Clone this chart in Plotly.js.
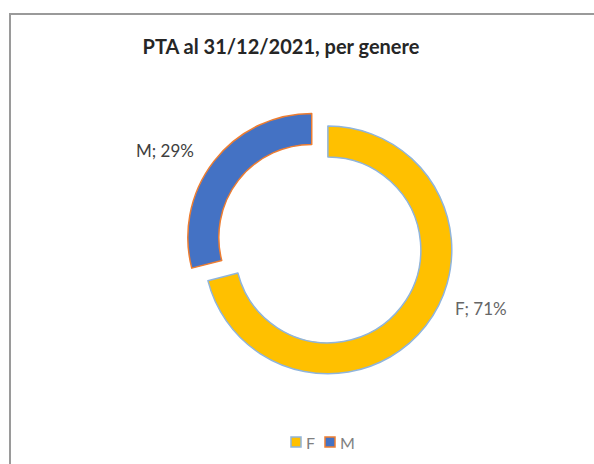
<!DOCTYPE html>
<html>
<head>
<meta charset="utf-8">
<script src="https://cdn.plot.ly/plotly-3.0.1.min.js"></script>
<style>
  html, body { margin: 0; padding: 0; background: #fff; }
  #wrap { position: relative; width: 594px; height: 464px; overflow: hidden; }
  #chart { width: 594px; height: 464px; }
  #frame { position: absolute; left: 9px; top: 13px; width: 600px; height: 470px;
           border-left: 2px solid #9a9a9a; border-top: 2px solid #9a9a9a; pointer-events: none; }
</style>
</head>
<body>
<div id="wrap">
  <div id="chart"></div>
  <div id="frame"></div>
</div>
<script>
const categories = ["F", "M"];
const values = [71, 29];
const sliceColors = ["#FFC000", "#4472C4"];
const outlineColors = ["#8FB4DC", "#ED7D31"];
const pulls = [0, 0.165];
const chartTitle = "PTA al 31/12/2021, per genere";

const total = values.reduce((a, b) => a + b, 0);
const labelTexts = categories.map((c, i) => c + "; " + Math.round(values[i] / total * 100) + "%");

const W = 594, H = 464;
const px = v => v / W;
const py = v => 1 - v / H;

const trace = {
  type: "pie",
  labels: categories,
  values: values,
  hole: 0.75,
  sort: false,
  direction: "clockwise",
  rotation: 0,
  pull: pulls,
  marker: { colors: sliceColors, line: { color: outlineColors, width: 1.5 } },
  textinfo: "none",
  domain: { x: [0.309, 0.795], y: [0.150, 0.773] },
  hoverinfo: "none",
  showlegend: false
};

// custom compact legend (Excel style)
const legendX = [291, 325];   // left edge of each legend square, px
const legendY = 442;          // centre line of legend, px
const sq = 10;
const legendShapes = categories.map((c, i) => ({
  type: "rect", xref: "paper", yref: "paper",
  x0: px(legendX[i]), x1: px(legendX[i] + sq),
  y0: py(legendY + sq / 2), y1: py(legendY - sq / 2),
  fillcolor: sliceColors[i], line: { color: outlineColors[i], width: 1.5 }
}));
const legendTexts = categories.map((c, i) => ({
  text: c, xref: "paper", yref: "paper",
  x: px(legendX[i] + sq + 3), y: py(legendY),
  xanchor: "left", yanchor: "middle", showarrow: false,
  font: { family: "Lato, sans-serif", size: 16, color: "#808080" }
}));

const layout = {
  width: W,
  height: H,
  margin: { l: 0, r: 0, t: 0, b: 0 },
  paper_bgcolor: "#ffffff",
  title: {
    text: "<b>" + chartTitle + "</b>",
    font: { family: "Lato, sans-serif", size: 20, color: "#262626" },
    xref: "container", yref: "container",
    x: 0.473, y: 0.898, xanchor: "center", yanchor: "middle"
  },
  shapes: legendShapes,
  annotations: [
    { text: labelTexts[0], xref: "paper", yref: "paper", x: px(453), y: py(308),
      xanchor: "left", yanchor: "middle", showarrow: false,
      font: { family: "Lato, sans-serif", size: 17, color: "#666666" } },
    { text: labelTexts[1], xref: "paper", yref: "paper", x: px(196), y: py(150),
      xanchor: "right", yanchor: "middle", showarrow: false,
      font: { family: "Lato, sans-serif", size: 17, color: "#404040" } }
  ].concat(legendTexts),
  showlegend: false
};

Plotly.newPlot("chart", [trace], layout, { displayModeBar: false, staticPlot: true });
</script>
</body>
</html>
